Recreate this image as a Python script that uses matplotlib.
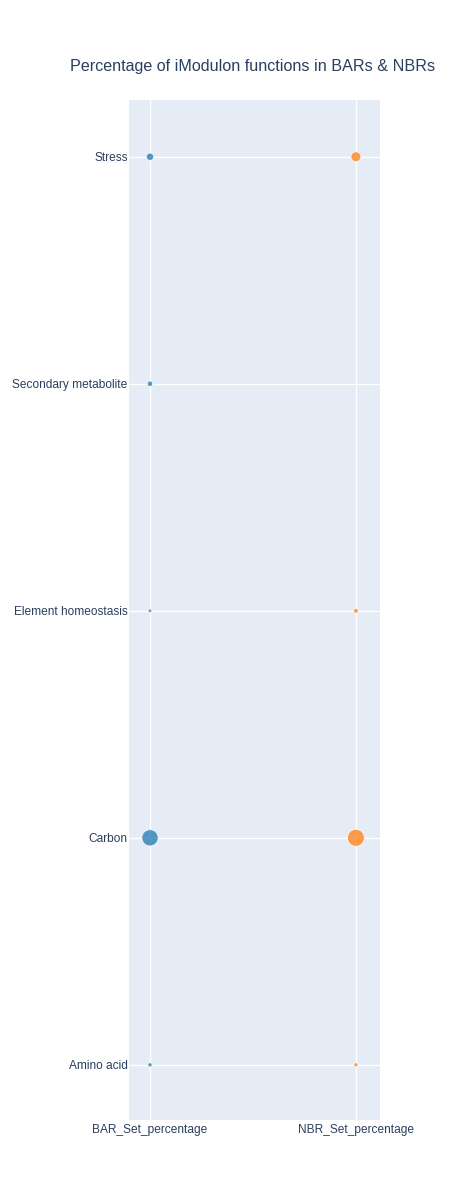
import matplotlib.pyplot as plt

plt.rcParams['font.family'] = ['Liberation Sans', 'DejaVu Sans']

# Datos (porcentajes estimados)
functions = ['Amino acid', 'Carbon', 'Element homeostasis', 'Secondary metabolite', 'Stress']
sets = ['BAR_Set_percentage', 'NBR_Set_percentage']
bar_pct = [10, 48, 8, 14, 20]
nbr_pct = [10, 50, 12, 0, 28]

text_color = '#2a3f5f'
bg_color = '#e5ecf6'
colors = ['#1f77b4', '#ff7f0e']

fig = plt.figure(figsize=(4.6, 12), dpi=100)
fig.patch.set_facecolor('white')
ax = fig.add_axes([129 / 460, 1 - 1120 / 1200, 251 / 460, 1020 / 1200])
ax.set_facecolor(bg_color)

# diametro en px proporcional al porcentaje -> area en pt^2
px_per_pct = 0.32
for i, (name, vals) in enumerate(zip(sets, [bar_pct, nbr_pct])):
    diam_pt = [(v * px_per_pct + (1 if v > 0 else 0)) * 0.72 for v in vals]
    sizes = [d ** 2 for d in diam_pt]
    ax.scatter([i] * len(functions), range(len(functions)), s=sizes, c=colors[i],
               alpha=0.75, edgecolors='white', linewidths=0.7, zorder=3)

ax.set_xlim(-0.102, 1.117)
ax.set_ylim(-0.243, 4.25)
ax.set_xticks(range(len(sets)))
ax.set_xticklabels(sets)
ax.set_yticks(range(len(functions)))
ax.set_yticklabels(functions)
ax.tick_params(length=0, labelsize=8.6, labelcolor=text_color, pad=1)
ax.tick_params(axis='x', pad=3)
ax.grid(color='white', linewidth=1, zorder=0)
ax.set_axisbelow(True)
for s in ax.spines.values():
    s.set_visible(False)

fig.text(253 / 460, 1 - 66 / 1200, 'Percentage of iModulon functions in BARs & NBRs',
         ha='center', va='center', fontsize=11.6, color=text_color)

plt.savefig('out.png', dpi=100)
plt.close()
